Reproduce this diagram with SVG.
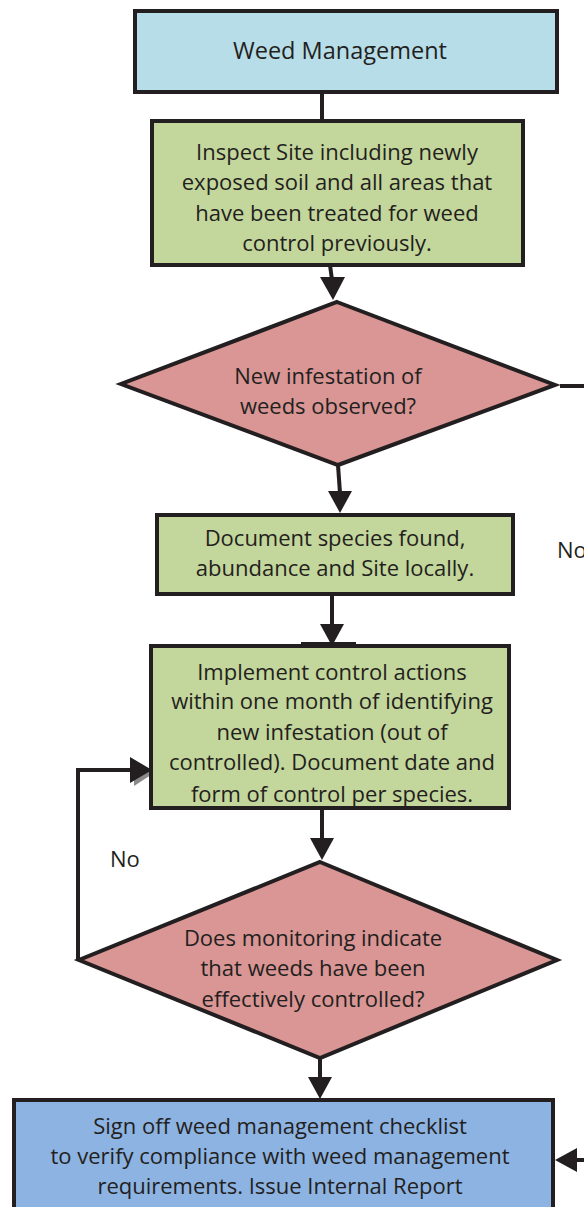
<svg xmlns="http://www.w3.org/2000/svg" width="584" height="1207" viewBox="0 0 584 1207">
  <style>
    .box { stroke: #231f20; stroke-width: 4; }
    .blue1 { fill: #b7dde8; }
    .green { fill: #c3d69b; }
    .red { fill: #d99694; }
    .blue2 { fill: #8db3e2; }
    .lbl { font-family: "Open Sans", Lato, sans-serif; font-size: 22px; fill: #231f20; text-anchor: middle; }
    .side { font-family: "Open Sans", Lato, sans-serif; font-size: 22px; fill: #231f20; }
    .line { stroke: #231f20; stroke-width: 4; fill: none; }
    .head { fill: #231f20; }
  </style>

  <!-- connectors -->
  <g id="connectors">
    <line class="line" x1="322" y1="92" x2="322" y2="122"/>
    <line class="line" x1="330" y1="265" x2="332" y2="280"/>
    <polygon class="head" points="320,277 345,277 333,300"/>
    <line class="line" x1="338" y1="465" x2="340" y2="493"/>
    <polygon class="head" points="328,491 352,491 340,513"/>
    <line class="line" x1="560" y1="386" x2="584" y2="386"/>
    <line class="line" x1="332" y1="594" x2="332" y2="626"/>
    <polygon class="head" points="320,624 344,624 332,646"/>
    <line class="line" x1="301" y1="644" x2="356" y2="644"/>
    <line class="line" x1="322" y1="808" x2="322" y2="840"/>
    <polygon class="head" points="310,838 334,838 322,860"/>
    <polyline class="line" points="78,960 78,770 132,770"/>
    <polygon points="132,757 152,770 132,783" fill="#8a8a8a" transform="translate(2,3)"/>
    <polygon class="head" points="130,757 152,770 130,783"/>
    <line class="line" x1="320" y1="1058" x2="320" y2="1080"/>
    <polygon class="head" points="308,1077 332,1077 320,1099"/>
    <line class="line" x1="575" y1="1160" x2="584" y2="1160"/>
    <polygon class="head" points="577,1148 555,1160 577,1172"/>
  </g>

  <g id="start">
    <rect class="box blue1" x="135" y="11" width="422" height="81"/>
    <text class="lbl" x="340" y="59" style="font-size:23.5px">Weed Management</text>
  </g>

  <g id="inspect">
    <rect class="box green" x="152" y="121" width="371" height="144"/>
    <text class="lbl" x="337" y="160">Inspect Site including newly</text>
    <text class="lbl" x="337" y="190">exposed soil and all areas that</text>
    <text class="lbl" x="337" y="221">have been treated for weed</text>
    <text class="lbl" x="337" y="251">control previously.</text>
  </g>

  <g id="decision-new">
    <polygon class="box red" points="337,302 555,385 338,465 121,384"/>
    <text class="lbl" x="328" y="384">New infestation of</text>
    <text class="lbl" x="328" y="414">weeds observed?</text>
  </g>

  <text class="side" x="557" y="558">No</text>

  <g id="document">
    <rect class="box green" x="157" y="515" width="356" height="79"/>
    <text class="lbl" x="335" y="546">Document species found,</text>
    <text class="lbl" x="335" y="576">abundance and Site locally.</text>
  </g>

  <g id="implement">
    <rect class="box green" x="151" y="646" width="358" height="162"/>
    <text class="lbl" x="332" y="680">Implement control actions</text>
    <text class="lbl" x="332" y="709">within one month of identifying</text>
    <text class="lbl" x="332" y="740">new infestation (out of</text>
    <text class="lbl" x="332" y="770">controlled). Document date and</text>
    <text class="lbl" x="332" y="802">form of control per species.</text>
  </g>

  <text class="side" x="110" y="867">No</text>

  <g id="decision-monitor">
    <polygon class="box red" points="320,862 557,960 320,1058 79,960"/>
    <text class="lbl" x="313" y="946">Does monitoring indicate</text>
    <text class="lbl" x="313" y="976">that weeds have been</text>
    <text class="lbl" x="313" y="1007">effectively controlled?</text>
  </g>

  <g id="signoff">
    <rect class="box blue2" x="14" y="1100" width="539" height="112"/>
    <text class="lbl" x="280" y="1134">Sign off weed management checklist</text>
    <text class="lbl" x="280" y="1164">to verify compliance with weed management</text>
    <text class="lbl" x="280" y="1194">requirements. Issue Internal Report</text>
  </g>
</svg>
